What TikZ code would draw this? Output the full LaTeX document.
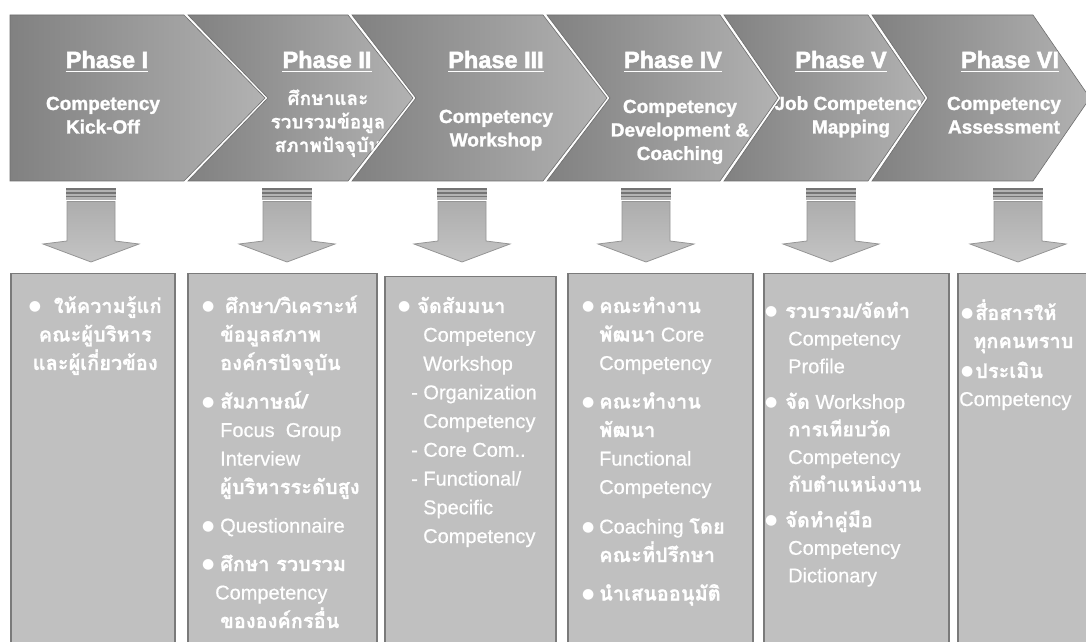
\documentclass[tikz,border=0pt]{standalone}
\usepackage{fontspec}
\setmainfont{Liberation Sans}[FakeBold=0.6, BoldFeatures={FakeBold=1.4}]
\newfontfamily\thaifont[Script=Thai, BoldFeatures={FakeBold=0.8}]{Loma}
\newfontfamily\headfont{Liberation Sans Bold}[FakeBold=2.2]
\newfontfamily\dotfont{DejaVu Sans}

\definecolor{chevdark}{HTML}{818181}
\definecolor{chevlight}{HTML}{B2B2B2}
\definecolor{chevedge}{HTML}{6E6E6E}
\definecolor{boxfill}{HTML}{C0C0C0}
\definecolor{boxedge}{HTML}{7A7A7A}
\definecolor{capfill}{HTML}{B2B2B2}
\definecolor{stripe}{HTML}{747474}
\definecolor{arrowtop}{HTML}{ADADAD}
\definecolor{arrowbot}{HTML}{C4C4C4}
\definecolor{arrowedge}{HTML}{959595}

% Thai runs, always bold
\newcommand\tx[1]{{\thaifont\bfseries #1}}
% bullet in a column of given width
\newcommand\bul[1]{\makebox[#1][l]{\raisebox{2.5bp}{\dotfont\fontsize{14bp}{14bp}\selectfont ●}}}
\newcommand\ind[1]{\hspace*{#1}}
% multi-line title, first baseline on the node's base
\newcommand\ttl[1]{\parbox[t]{220bp}{\centering\bfseries\fontsize{19bp}{23.5bp}\selectfont\lineskiplimit=-100bp\relax #1}}
% multi-line box text
\newcommand\lines[3]{\parbox[t]{#1}{\fontsize{20bp}{#2}\selectfont\lineskiplimit=-100bp\relax #3}}

\tikzset{
  chevron/.style={draw=chevedge, line width=0.6bp, left color=chevdark, right color=chevlight},
  chev/.style n args={4}{insert path={(#1,15) -- (#3,15) -- (#4,98) -- (#3,181) -- (#1,181) -- (#2,98) -- cycle}},
  phase/.style={text=white, inner sep=0pt, anchor=base, font=\headfont\fontsize{23.5bp}{23.5bp}\selectfont},
  uline/.style={white, line width=1.8bp},
  title/.style={text=white, inner sep=0pt, anchor=base},
  box/.style={draw=boxedge, line width=1.5bp, fill=boxfill, anchor=north west, inner sep=0pt},
  boxtext/.style={text=white, inner sep=0pt, anchor=base west},
  arrowbody/.style={draw=arrowedge, line width=0.8bp, top color=arrowtop, bottom color=arrowbot},
}

\begin{document}
\begin{tikzpicture}[x=1bp, y=-1bp]
\useasboundingbox (0,0) rectangle (1086,642);
\clip (0,0) rectangle (1086,642);
\fill[white] (0,0) rectangle (1086,642);

% ---------- phase chevrons ----------
\path[chevron, chev={10}{10}{184}{265}];
\begin{scope}
  \clip[chev={10}{10}{184}{265}];
  \node[phase] (h1) at (107,68) {Phase I};
  \draw[uline] ([yshift=-3.5bp]h1.base west) -- ([yshift=-3.5bp]h1.base east);
  \node[title] (t1) at (103,110) {\ttl{Competency\\Kick-Off}};
\end{scope}

\path[chevron, chev={188}{268}{348}{413}];
\begin{scope}
  \clip[chev={188}{268}{348}{413}];
  \node[phase] (h2) at (327,68) {Phase II};
  \draw[uline] ([yshift=-3.5bp]h2.base west) -- ([yshift=-3.5bp]h2.base east);
  \node[title] (t2) at (328,105) {\ttl{\tx{ศึกษาและ}\\\tx{รวบรวมข้อมูล}\\\tx{สภาพปัจจุบัน}}};
\end{scope}

\path[chevron, chev={352}{416}{543}{607}];
\begin{scope}
  \clip[chev={352}{416}{543}{607}];
  \node[phase] (h3) at (496,68) {Phase III};
  \draw[uline] ([yshift=-3.5bp]h3.base west) -- ([yshift=-3.5bp]h3.base east);
  \node[title] (t3) at (496,123) {\ttl{Competency\\Workshop}};
\end{scope}

\path[chevron, chev={547}{610}{720}{778}];
\begin{scope}
  \clip[chev={547}{610}{720}{778}];
  \node[phase] (h4) at (673,68) {Phase IV};
  \draw[uline] ([yshift=-3.5bp]h4.base west) -- ([yshift=-3.5bp]h4.base east);
  \node[title] (t4) at (680,113) {\ttl{Competency\\Development \&\\Coaching}};
\end{scope}

\path[chevron, chev={724}{781}{868}{925}];
\begin{scope}
  \clip[chev={724}{781}{868}{925}];
  \node[phase] (h5) at (841,68) {Phase V};
  \draw[uline] ([yshift=-3.5bp]h5.base west) -- ([yshift=-3.5bp]h5.base east);
  \node[title] (t5) at (851,110) {\ttl{Job Competency\\Mapping}};
\end{scope}

\path[chevron, chev={872}{928}{1033}{1090}];
\begin{scope}
  \clip[chev={872}{928}{1033}{1090}];
  \node[phase] (h6) at (1010,68) {Phase VI};
  \draw[uline] ([yshift=-3.5bp]h6.base west) -- ([yshift=-3.5bp]h6.base east);
  \node[title] (t6) at (1004,110) {\ttl{Competency\\Assessment}};
\end{scope}

% ---------- block arrows ----------
\foreach \cx in {91,287,462,646,831,1018} {
  \fill[capfill] (\cx-25,188) rectangle (\cx+25,200);
  \foreach \sy in {189.2,192.8,196.4}
    \draw[stripe, line width=1.6bp] (\cx-25,\sy) -- (\cx+25,\sy);
  \path[arrowbody] (\cx-24,201.5) -- (\cx+24,201.5) -- (\cx+24,241) -- (\cx+48,244)
     -- (\cx,262) -- (\cx-48,244) -- (\cx-24,241) -- cycle;
}

% ---------- detail boxes ----------
\node[box, minimum width=164bp, minimum height=390bp] (b1) at (10,273) {};
\node[box, minimum width=189bp, minimum height=390bp] (b2) at (187,273) {};
\node[box, minimum width=171bp, minimum height=390bp] (b3) at (384,276) {};
\node[box, minimum width=185bp, minimum height=390bp] (b4) at (567,273) {};
\node[box, minimum width=185bp, minimum height=390bp] (b5) at (763,273) {};
\node[box, minimum width=140bp, minimum height=390bp] (b6) at (957,273) {};

\node[boxtext] (x1) at (13,313) {\lines{164bp}{28.5bp}{\centering
  \bul{25bp}\tx{ให้ความรู้แก่}\\
  \tx{คณะผู้บริหาร}\\
  \tx{และผู้เกี่ยวข้อง}}};

\node[boxtext] (x2) at (202,313) {\lines{180bp}{28.5bp}{%
  \bul{18bp}\hspace{5bp}\tx{ศึกษา/วิเคราะห์}\\
  \ind{18bp}\tx{ข้อมูลสภาพ}\\
  \ind{18bp}\tx{องค์กรปัจจุบัน}\\[10bp]
  \bul{18bp}\tx{สัมภาษณ์/}\\
  \ind{18bp}Focus\ \ Group\\
  \ind{18bp}Interview\\
  \ind{18bp}\tx{ผู้บริหารระดับสูง}\\[10bp]
  \bul{18bp}Questionnaire\\[10bp]
  \bul{18bp}\tx{ศึกษา รวบรวม}\\
  \ind{13bp}Competency\\
  \ind{18bp}\tx{ขององค์กรอื่น}}};

\node[boxtext] (x3) at (398,313) {\lines{160bp}{28.75bp}{%
  \bul{19bp}\tx{จัดสัมมนา}\\
  \ind{25bp}Competency\\
  \ind{25bp}Workshop\\
  \ind{13bp}- Organization\\
  \ind{25bp}Competency\\
  \ind{13bp}- Core Com..\\
  \ind{13bp}- Functional/\\
  \ind{25bp}Specific\\
  \ind{25bp}Competency}};

\node[boxtext] (x4) at (582,313) {\lines{170bp}{28.5bp}{%
  \bul{17bp}\tx{คณะทำงาน}\\
  \ind{17bp}\tx{พัฒนา} Core\\
  \ind{17bp}Competency\\[10bp]
  \bul{17bp}\tx{คณะทำงาน}\\
  \ind{17bp}\tx{พัฒนา}\\
  \ind{17bp}Functional\\
  \ind{17bp}Competency\\[11bp]
  \bul{17bp}Coaching \tx{โดย}\\
  \ind{17bp}\tx{คณะที่ปรึกษา}\\[10bp]
  \bul{17bp}\tx{นำเสนออนุมัติ}}};

\node[boxtext] (x5) at (765,318) {\lines{180bp}{27.6bp}{%
  \bul{20bp}\tx{รวบรวม/จัดทำ}\\
  \ind{23bp}Competency\\
  \ind{23bp}Profile\\[8bp]
  \bul{20bp}\tx{จัด} Workshop\\
  \ind{23bp}\tx{การเทียบวัด}\\
  \ind{23bp}Competency\\
  \ind{23bp}\tx{กับตำแหน่งงาน}\\[8bp]
  \bul{20bp}\tx{จัดทำคู่มือ}\\
  \ind{23bp}Competency\\
  \ind{23bp}Dictionary}};

\node[boxtext] (x6) at (961,320) {\lines{130bp}{28bp}{%
  \bul{14bp}\tx{สื่อสารให้}\\
  \ind{12bp}\tx{ทุกคนทราบ}\\[2bp]
  \bul{14bp}\tx{ประเมิน}\\
  \hspace*{-2bp}Competency}};
\end{tikzpicture}
\end{document}
